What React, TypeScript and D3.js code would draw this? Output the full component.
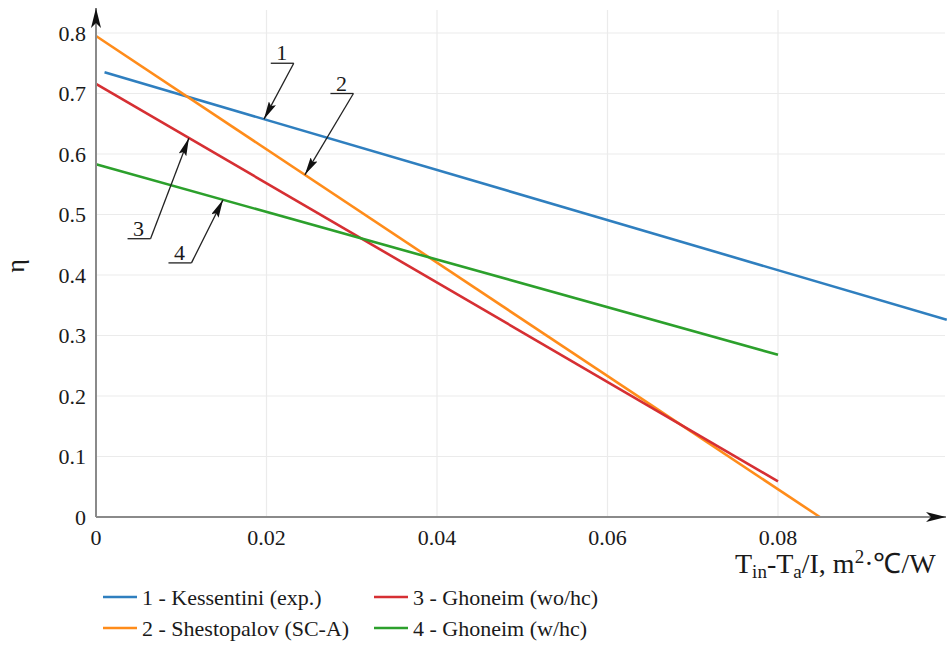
import React from "react";
import * as d3 from "d3";

const xTicks = [0, 0.02, 0.04, 0.06, 0.08];
const yTicks = [0, 0.1, 0.2, 0.3, 0.4, 0.5, 0.6, 0.7, 0.8];

const kessentini: [number, number][] = [[0.001, 0.735], [0.0998, 0.326]];
const shestopalov: [number, number][] = [[0, 0.795], [0.0849, 0]];
const ghoneimWo: [number, number][] = [[0, 0.716], [0.08, 0.059]];
const ghoneimW: [number, number][] = [[0, 0.583], [0.08, 0.268]];

const seriesNames = ["1 - Kessentini (exp.)", "2 - Shestopalov (SC-A)", "3 - Ghoneim (wo/hc)", "4 - Ghoneim (w/hc)"];
const seriesColors = ["#2f7fbf", "#ff8c1a", "#d62f33", "#2ca02c"];
const seriesData = [kessentini, shestopalov, ghoneimWo, ghoneimW];

const annLabels = ["1", "2", "3", "4"];
const annTipX = [0.0197, 0.0245, 0.0109, 0.0149];
const annTextX = [0.0205, 0.0275, 0.0037, 0.0085];
const annTextY = [0.75, 0.70, 0.46, 0.42];

const FONT = "'Liberation Serif', 'Times New Roman', serif";

export default function App() {
  const W = 947, H = 650;
  const x = d3.scaleLinear().domain([0, 0.08]).range([96, 778]);
  const y = d3.scaleLinear().domain([0, 0.8]).range([517, 33]);
  const xEnd = 945;
  const line = d3.line<[number, number]>().x(d => x(d[0])).y(d => y(d[1]));
  const ts = { fontFamily: FONT };

  const valueAt = (s: [number, number][], xv: number) => {
    const [a, b] = [s[0], s[s.length - 1]];
    return a[1] + (b[1] - a[1]) * (xv - a[0]) / (b[0] - a[0]);
  };

  return (
    <svg width={W} height={H} style={{ position: "absolute", left: 0, top: 0, background: "#fff", fontFamily: FONT }}>
      <defs>
        <marker id="ah" viewBox="0 0 20 10" refX="20" refY="5" markerWidth="20" markerHeight="10" markerUnits="userSpaceOnUse" orient="auto">
          <path d="M0,0 L20,5 L0,10 L5,5 Z" fill="#111" />
        </marker>
        <marker id="ann" viewBox="0 0 18 8" refX="18" refY="4" markerWidth="18" markerHeight="8" markerUnits="userSpaceOnUse" orient="auto">
          <path d="M0,0 L18,4 L0,8 L3,4 Z" fill="#111" />
        </marker>
      </defs>
      {xTicks.filter(t => t > 0).map(t => (
        <line key={"gx" + t} x1={x(t)} x2={x(t)} y1={10} y2={y(0)} stroke="#ebebeb" strokeWidth={1.2} />
      ))}
      {yTicks.filter(t => t > 0).map(t => (
        <line key={"gy" + t} x1={x(0)} x2={xEnd} y1={y(t)} y2={y(t)} stroke="#ebebeb" strokeWidth={1.2} />
      ))}
      {seriesData.map((s, i) => (
        <path key={i} d={line(s) || ""} fill="none" stroke={seriesColors[i]} strokeWidth={2.6} />
      ))}
      <line x1={x(0)} x2={x(0)} y1={y(0)} y2={8} stroke="#8a8a8a" strokeWidth={2} markerEnd="url(#ah)" />
      <line x1={x(0)} x2={946} y1={y(0)} y2={y(0)} stroke="#8a8a8a" strokeWidth={2} markerEnd="url(#ah)" />
      {yTicks.map(t => (
        <text key={"ty" + t} style={ts} x={86} y={y(t)} dy="0.35em" textAnchor="end" fontSize={22} fill="#1a1a1a">
          {t === 0 ? "0" : d3.format(".1f")(t)}
        </text>
      ))}
      {xTicks.map(t => (
        <text key={"tx" + t} style={ts} x={x(t)} y={545} textAnchor="middle" fontSize={22} fill="#1a1a1a">
          {t === 0 ? "0" : d3.format(".2f")(t)}
        </text>
      ))}
      <text style={ts} transform="translate(24,266) rotate(-90)" textAnchor="middle" fontSize={26} fill="#1a1a1a">η</text>
      <text style={ts} x={735} y={573} fontSize={28} fill="#1a1a1a">
        T<tspan dy={5} fontSize={19}>in</tspan><tspan dy={-5}>-T</tspan><tspan dy={5} fontSize={19}>a</tspan><tspan dy={-5}>/I, m</tspan><tspan dy={-10} fontSize={19}>2</tspan><tspan dy={10}>·℃/W</tspan>
      </text>
      {annLabels.map((lab, i) => {
        const tx = x(annTextX[i]);
        const ty = y(annTextY[i]);
        const tipX = x(annTipX[i]);
        const tipY = y(valueAt(seriesData[i], annTipX[i]));
        return (
          <g key={"ann" + i}>
            <text style={ts} x={tx + 11} y={ty - 3} textAnchor="middle" fontSize={22} fill="#1a1a1a">{lab}</text>
            <line x1={tx} x2={tx + 23} y1={ty} y2={ty} stroke="#222" strokeWidth={1.3} />
            <line x1={tx + 23} y1={ty} x2={tipX} y2={tipY} stroke="#222" strokeWidth={1.3} markerEnd="url(#ann)" />
          </g>
        );
      })}
      {seriesNames.map((n, i) => {
        const col = Math.floor(i / 2);
        const row = i % 2;
        const lx = col === 0 ? 103 : 374;
        const ly = row === 0 ? 597 : 628;
        return (
          <g key={"lg" + i}>
            <line x1={lx} x2={lx + 34} y1={ly} y2={ly} stroke={seriesColors[i]} strokeWidth={2.6} />
            <text style={ts} x={lx + 39} y={ly} dy="0.35em" fontSize={22} fill="#1a1a1a">{n}</text>
          </g>
        );
      })}
    </svg>
  );
}
